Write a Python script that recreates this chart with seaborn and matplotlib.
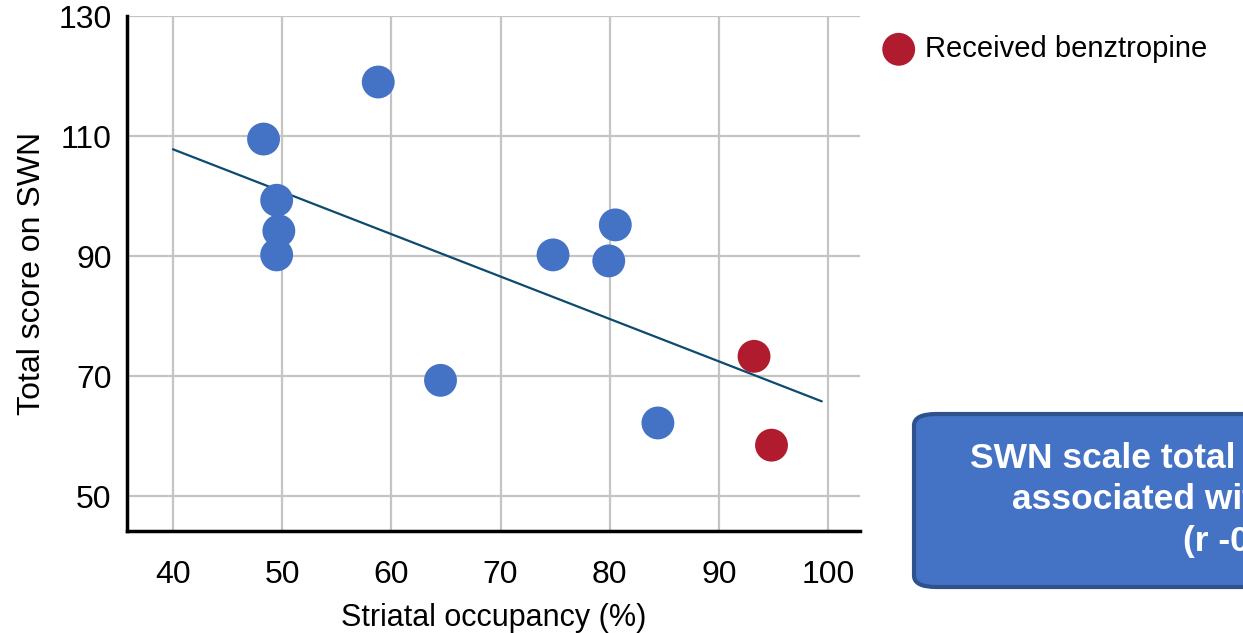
import numpy as np
import pandas as pd
import seaborn as sns
import matplotlib.pyplot as plt
from matplotlib.patches import FancyBboxPatch

# data
occupancy = [48.3, 58.8, 49.5, 49.7, 49.5, 64.5, 74.8, 80.5, 79.9, 84.4, 93.2, 94.8]
swn_total = [109.5, 119.0, 99.3, 94.2, 90.2, 69.3, 90.2, 95.2, 89.2, 62.2, 73.3, 58.5]
benztropine = [False] * 10 + [True] * 2

fit_x = [40.0, 99.4]
fit_y = [107.8, 65.8]

x_ticks = [40, 50, 60, 70, 80, 90, 100]
y_ticks = [50, 70, 90, 110, 130]

box_lines = ['SWN scale total score was', 'associated with occupancy', '(r -0.62)']

df = pd.DataFrame({'occ': occupancy, 'swn': swn_total, 'benz': benztropine})
fit = pd.DataFrame({'x': fit_x, 'y': fit_y})

sns.set_style('white')
plt.rcParams['font.family'] = ['Liberation Sans', 'DejaVu Sans']
plt.rcParams.update({'text.color': 'black', 'axes.labelcolor': 'black',
                     'xtick.color': 'black', 'ytick.color': 'black'})

fig = plt.figure(figsize=(12.43, 6.33), dpi=100)
ax = fig.add_axes([127 / 1243, 1 - 531 / 633, (860 - 127) / 1243, (531 - 16) / 633])

ax.grid(True, color='#c4c4c4', linewidth=1.6)
ax.set_axisbelow(True)

sns.lineplot(data=fit, x='x', y='y', color='#0d4a70', linewidth=1.6, ax=ax, zorder=2)
sns.scatterplot(data=df[~df['benz']], x='occ', y='swn', color='#4472c4', s=560,
                edgecolor='none', legend=False, ax=ax, zorder=3)
sns.scatterplot(data=df[df['benz']], x='occ', y='swn', color='#b01c2e', s=560,
                edgecolor='none', label='Received benztropine', ax=ax, zorder=3)

ax.set_xlim(35.8, 102.9)
ax.set_ylim(44.2, 130)
ax.set_xticks(x_ticks)
ax.set_yticks(y_ticks)
ax.tick_params(axis='both', length=8, width=2.8, color='black', direction='out')
ax.tick_params(axis='x', labelsize=23, pad=13)
ax.tick_params(axis='y', labelsize=23, pad=3)
for s in ['top', 'right']:
    ax.spines[s].set_visible(False)
for s in ['left', 'bottom']:
    ax.spines[s].set_color('black')
    ax.spines[s].set_linewidth(2.5)

ax.set_xlabel('Striatal occupancy (%)', fontsize=22, labelpad=9)
ax.set_ylabel('Total score on SWN', fontsize=23, labelpad=8)

ax.legend(loc='center left', bbox_to_anchor=(1.017, 0.936), frameon=False,
          fontsize=21, markerscale=1, handlelength=1.0, handletextpad=0.4,
          borderaxespad=0)

# annotation box, runs off the right edge as in the original
box = FancyBboxPatch((914 / 1243, 1 - 587 / 633), 0.4, (587 - 414) / 633,
                     boxstyle='round,pad=0,rounding_size=0.018',
                     transform=fig.transFigure, facecolor='#4472c4',
                     edgecolor='#2f528f', linewidth=3, clip_on=False)
fig.patches.append(box)
for line, x0, y0 in zip(box_lines, [970, 1012, 1183], [458, 500, 542]):
    fig.text(x0 / 1243, 1 - y0 / 633, line, ha='left', va='center', color='white',
             fontsize=25.5, fontweight='bold')

fig.savefig('out.png', dpi=100)
